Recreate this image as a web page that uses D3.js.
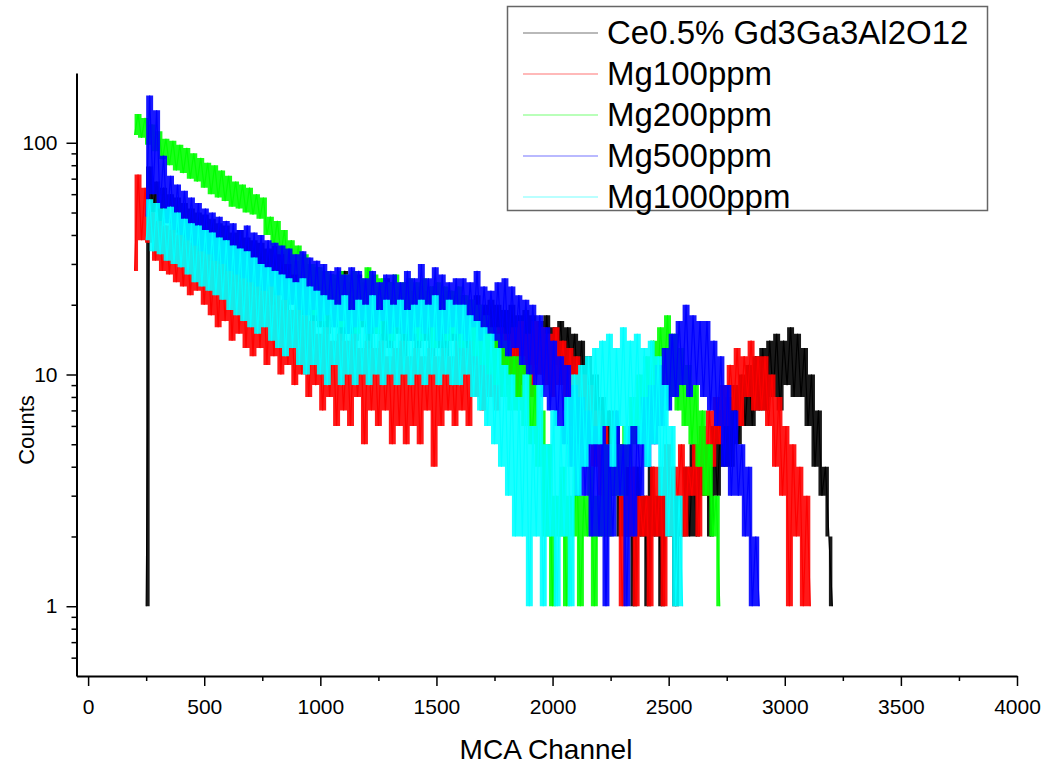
<!DOCTYPE html>
<html>
<head>
<meta charset="utf-8">
<script src="https://cdn.jsdelivr.net/npm/d3@7"></script>
<style>
  body { margin: 0; background: #fff; }
  svg text { font-family: "Liberation Sans", Arial, sans-serif; fill: #000; }
</style>
</head>
<body>
<div id="chart"></div>
<script>
// Pulse height spectra, counts per MCA channel (read every 15 channels)
const channelStep = 15;

const seriesNames = ["Ce0.5% Gd3Ga3Al2O12", "Mg100ppm", "Mg200ppm", "Mg500ppm", "Mg1000ppm"];
const seriesColors = ["#000000", "#ff0000", "#00ff00", "#0000ff", "#00ffff"];
const seriesStart = [250, 200, 200, 250, 250];

const countsCe = [
  1, 79, 50, 68, 44, 64, 47, 60, 41, 58,
  36, 55, 38, 52, 33, 50, 36, 49, 31, 47,
  30, 45, 27, 44, 29, 41, 25, 42, 27, 39,
  24, 38, 22, 37, 23, 35, 20, 36, 22, 34,
  19, 33, 21, 31, 18, 32, 19, 30, 17, 29,
  16, 28, 15, 27, 17, 26, 14, 28, 15, 25,
  14, 27, 16, 25, 13, 26, 15, 24, 14, 26,
  13, 25, 15, 24, 12, 25, 14, 23, 13, 24,
  14, 23, 12, 24, 13, 22, 12, 23, 14, 22,
  12, 22, 13, 21, 11, 22, 12, 20, 13, 21,
  11, 20, 12, 19, 10, 20, 11, 18, 12, 19,
  10, 18, 11, 17, 10, 18, 9, 16, 11, 17,
  9, 16, 10, 15, 8, 14, 7, 12, 6, 10,
  5, 8, 4, 7, 3, 6, 2, 5, 2, 4,
  1, 4, 2, 3, 1, 4, 2, 3, 1, 3,
  2, 4, 1, 3, 2, 4, 2, 5, 2, 4,
  3, 5, 2, 6, 3, 7, 4, 8, 4, 9,
  5, 10, 6, 11, 6, 12, 7, 13, 7, 14,
  8, 15, 7, 14, 9, 16, 8, 15, 8, 13,
  6, 10, 4, 7, 3, 4, 2, 1
];

const countsMg100 = [
  28, 73, 38, 64, 37, 50, 31, 46, 28, 44,
  27, 42, 25, 40, 24, 39, 22, 37, 23, 36,
  20, 35, 18, 33, 16, 32, 17, 30, 14, 31,
  15, 28, 13, 27, 12, 26, 13, 24, 11, 25,
  12, 22, 10, 21, 11, 19, 9, 20, 10, 18,
  8, 17, 9, 15, 7, 16, 8, 14, 6, 15,
  7, 14, 6, 15, 8, 13, 5, 14, 7, 13,
  6, 14, 7, 12, 5, 13, 6, 14, 5, 12,
  6, 13, 5, 12, 7, 13, 4, 12, 6, 13,
  7, 12, 6, 14, 7, 13, 6, 14, 8, 13,
  7, 15, 8, 14, 7, 16, 8, 15, 9, 16,
  8, 17, 9, 15, 8, 17, 10, 16, 9, 15,
  8, 16, 9, 14, 7, 13, 6, 12, 5, 10,
  5, 9, 4, 7, 3, 6, 2, 5, 3, 5,
  1, 3, 2, 4, 1, 3, 2, 3, 1, 4,
  2, 4, 1, 5, 2, 4, 3, 5, 2, 4,
  3, 5, 2, 6, 3, 7, 4, 8, 5, 9,
  6, 11, 7, 13, 6, 12, 8, 14, 7, 12,
  7, 12, 6, 10, 4, 8, 3, 6, 1, 5,
  2, 4, 1, 3, 1
];

const countsMg200 = [
  108, 133, 105, 128, 98, 120, 92, 112, 85, 104,
  80, 102, 76, 98, 74, 95, 70, 90, 68, 86,
  64, 82, 60, 80, 58, 76, 56, 72, 53, 68,
  52, 66, 50, 64, 49, 60, 47, 58, 40, 48,
  36, 46, 33, 42, 30, 38, 27, 36, 25, 33,
  20, 30, 18, 29, 17, 28, 19, 27, 16, 28,
  16, 27, 18, 28, 15, 26, 17, 29, 16, 27,
  15, 26, 17, 25, 14, 27, 16, 25, 15, 26,
  15, 25, 14, 26, 16, 24, 13, 25, 15, 24,
  14, 23, 15, 24, 13, 22, 14, 21, 12, 20,
  11, 18, 10, 16, 9, 15, 8, 14, 7, 12,
  7, 12, 6, 11, 5, 9, 4, 7, 2, 5,
  1, 3, 2, 4, 1, 3, 2, 4, 1, 3,
  2, 4, 1, 3, 2, 5, 2, 4, 3, 5,
  3, 6, 4, 8, 5, 10, 6, 12, 7, 14,
  8, 16, 9, 18, 8, 15, 7, 13, 6, 11,
  5, 9, 4, 7, 3, 5, 2, 3, 1
];

const countsMg500 = [
  48, 160, 60, 138, 52, 88, 45, 72, 42, 66,
  40, 62, 38, 58, 36, 55, 34, 52, 33, 50,
  31, 48, 30, 46, 28, 45, 27, 42, 26, 44,
  25, 41, 24, 40, 23, 38, 24, 37, 22, 36,
  21, 35, 20, 33, 19, 34, 18, 32, 19, 31,
  17, 30, 18, 28, 16, 29, 17, 27, 15, 29,
  16, 28, 17, 26, 15, 28, 16, 25, 17, 27,
  15, 27, 16, 25, 15, 28, 14, 26, 16, 30,
  15, 26, 16, 29, 14, 27, 15, 25, 16, 26,
  15, 26, 14, 25, 16, 28, 14, 24, 15, 23,
  14, 25, 13, 26, 12, 24, 13, 22, 11, 21,
  10, 20, 9, 18, 8, 16, 7, 14, 6, 12,
  5, 11, 4, 9, 3, 8, 3, 7, 2, 6,
  2, 6, 1, 5, 2, 7, 3, 5, 1, 6,
  2, 6, 3, 8, 4, 9, 5, 11, 6, 13,
  7, 15, 8, 17, 9, 20, 8, 18, 9, 17,
  8, 17, 7, 14, 6, 12, 4, 9, 3, 7,
  3, 5, 2, 4, 1, 2, 1
];

const countsMg1000 = [
  38, 57, 34, 55, 33, 52, 31, 53, 30, 50,
  29, 47, 27, 45, 25, 44, 24, 42, 23, 41,
  22, 39, 21, 38, 19, 36, 18, 35, 17, 34,
  16, 32, 15, 30, 16, 29, 14, 28, 13, 27,
  12, 26, 13, 25, 11, 26, 10, 24, 11, 23,
  10, 22, 9, 21, 11, 20, 9, 22, 10, 19,
  9, 21, 10, 20, 9, 22, 10, 19, 9, 21,
  10, 20, 9, 21, 10, 19, 9, 20, 10, 21,
  9, 20, 10, 22, 9, 19, 10, 21, 9, 20,
  9, 20, 10, 18, 8, 17, 7, 16, 6, 15,
  5, 13, 4, 11, 3, 10, 2, 8, 2, 10,
  1, 6, 2, 9, 1, 5, 2, 7, 1, 6,
  2, 8, 1, 10, 3, 11, 4, 12, 5, 13,
  5, 14, 6, 15, 4, 13, 6, 16, 5, 14,
  6, 15, 5, 13, 4, 14, 5, 12, 3, 9,
  2, 6, 1, 3, 1
];

const seriesCounts = [countsCe, countsMg100, countsMg200, countsMg500, countsMg1000];

const xTicks = [0, 500, 1000, 1500, 2000, 2500, 3000, 3500, 4000];
const xMinorTicks = [250, 750, 1250, 1750, 2250, 2750, 3250, 3750];
const yTicks = [1, 10, 100];
const yMinorTicks = [0.6, 0.7, 0.8, 0.9, 2, 3, 4, 5, 6, 7, 8, 9, 20, 30, 40, 50, 60, 70, 80, 90];

const W = 1050, H = 770;
const margin = { top: 73, right: 33, bottom: 94, left: 76.5 };

const svg = d3.select("#chart").append("svg")
  .attr("width", W)
  .attr("height", H);

const x = d3.scaleLinear()
  .domain([-50, 4000])
  .range([margin.left, W - margin.right]);

const y = d3.scaleLog()
  .domain([0.5, 200])
  .range([H - margin.bottom, margin.top]);

svg.append("clipPath").attr("id", "plot-clip")
  .append("rect")
  .attr("x", margin.left)
  .attr("y", margin.top)
  .attr("width", W - margin.right - margin.left)
  .attr("height", H - margin.bottom - margin.top);

// spectra, drawn in the order of the legend (last one on top)
const plot = svg.append("g").attr("clip-path", "url(#plot-clip)");

seriesCounts.forEach((counts, s) => {
  const chan = i => seriesStart[s] + i * channelStep;
  // band swept by the noisy trace between neighbouring readings
  const band = d3.area()
    .x((d, i) => x(chan(i)))
    .y0((d, i) => y(Math.min(d, i + 1 < counts.length ? counts[i + 1] : d)))
    .y1((d, i) => y(Math.max(d, i + 1 < counts.length ? counts[i + 1] : d)))
    .curve(d3.curveStepAfter);
  const line = d3.line()
    .x((d, i) => x(chan(i)))
    .y(d => y(d));

  plot.append("path")
    .datum(counts)
    .attr("fill", seriesColors[s])
    .attr("fill-opacity", 0.9)
    .attr("d", band);
  plot.append("path")
    .datum(counts)
    .attr("fill", "none")
    .attr("stroke", seriesColors[s])
    .attr("stroke-width", 1.2)
    .attr("d", line);
});

// axes
svg.append("g")
  .attr("transform", `translate(0,${H - margin.bottom})`)
  .call(d3.axisBottom(x).tickValues(xTicks).tickFormat(d3.format("d"))
    .tickSize(10).tickSizeOuter(0).tickPadding(13));
svg.append("g")
  .attr("transform", `translate(0,${H - margin.bottom})`)
  .call(d3.axisBottom(x).tickValues(xMinorTicks).tickSize(5).tickFormat(""))
  .select(".domain").remove();

svg.append("g")
  .attr("transform", `translate(${margin.left},0)`)
  .call(d3.axisLeft(y).tickValues(yTicks).tickFormat(d3.format("d"))
    .tickSize(10).tickSizeOuter(0).tickPadding(9));
svg.append("g")
  .attr("transform", `translate(${margin.left},0)`)
  .call(d3.axisLeft(y).tickValues(yMinorTicks).tickSize(5).tickFormat(""))
  .select(".domain").remove();

svg.selectAll(".domain").attr("stroke-width", 2);
svg.selectAll(".tick line").attr("stroke-width", 1.5);
svg.selectAll(".tick text").style("font-size", "21px");

// axis titles
svg.append("text")
  .attr("x", 546)
  .attr("y", 759)
  .attr("text-anchor", "middle")
  .style("font-size", "28px")
  .text("MCA Channel");

svg.append("text")
  .attr("transform", "translate(34,430) rotate(-90)")
  .attr("text-anchor", "middle")
  .style("font-size", "22px")
  .text("Counts");

// legend
const legend = svg.append("g");
legend.append("rect")
  .attr("x", 507.5)
  .attr("y", 6.5)
  .attr("width", 480)
  .attr("height", 204)
  .attr("fill", "#fff")
  .attr("stroke", "#666")
  .attr("stroke-width", 1.5);

seriesNames.forEach((name, i) => {
  const cy = 33 + i * 41;
  legend.append("line")
    .attr("x1", 523).attr("x2", 598)
    .attr("y1", cy).attr("y2", cy)
    .attr("stroke", seriesColors[i])
    .attr("stroke-opacity", 0.55)
    .attr("stroke-width", 1.2);
  legend.append("text")
    .attr("x", 607)
    .attr("y", cy + 11)
    .style("font-size", "33px")
    .text(name);
});
</script>
</body>
</html>
